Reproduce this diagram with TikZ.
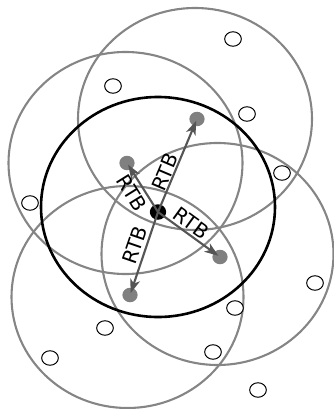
\documentclass[tikz,border=0pt]{standalone}
\usepackage{fontspec}
\setmainfont{DejaVu Sans}
\usetikzlibrary{arrows.meta}
\definecolor{ringgray}{HTML}{858585}
\definecolor{dotgray}{HTML}{808080}
\definecolor{arrowgray}{HTML}{555555}
\begin{document}
\begin{tikzpicture}[x=1pt,y=-1pt,
  ring/.style={draw=ringgray,line width=2.1pt},
  hub/.style={draw=black,line width=2.6pt},
  holder/.style={circle,fill=dotgray,minimum size=14.5pt,inner sep=0pt,xscale=1.05},
  center/.style={circle,fill=black,minimum size=15.5pt,inner sep=0pt,xscale=1.05},
  member/.style={circle,draw=black,line width=1pt,fill=white,minimum size=14.5pt,inner sep=0pt,xscale=1.15},
  link/.style={draw=arrowgray,line width=2.1pt,-{Stealth[length=14pt,width=10pt,inset=4pt]},shorten >=2pt},
  lbl/.style={font=\fontsize{20}{20}\selectfont,inner sep=0pt}
]
\useasboundingbox (0,0) rectangle (334,409);
% gray coverage circles
\draw[ring] (195,119) ellipse [x radius=117,y radius=111];
\draw[ring] (125.5,163) ellipse [x radius=117,y radius=111];
\draw[ring] (217.5,254) ellipse [x radius=116,y radius=111];
\draw[ring] (127.5,297) ellipse [x radius=116,y radius=111];
% black circle
\draw[hub] (158,207) ellipse [x radius=117,y radius=110];
% small white nodes
\node[member] (m1) at (233,39) {};
\node[member] (m2) at (113,86) {};
\node[member] (m3) at (247,114) {};
\node[member] (m4) at (282,173) {};
\node[member] (m5) at (30,203) {};
\node[member] (m6) at (315,283) {};
\node[member] (m7) at (235,308) {};
\node[member] (m8) at (105,328) {};
\node[member] (m9) at (50,358) {};
\node[member] (m10) at (213,352) {};
\node[member] (m11) at (258,390) {};
% gray holders
\node[holder] (g1) at (197,119) {};
\node[holder] (g2) at (127,163) {};
\node[holder] (g3) at (220,257) {};
\node[holder] (g4) at (130,295) {};
% center
\node[center] (c) at (158,212) {};
% arrows
\draw[link] (c.center) -- (g1.center);
\draw[link] (c.center) -- (g2.center);
\draw[link] (c.center) -- (g3.center);
\draw[link] (c.center) -- (g4.center);
% labels
\node[lbl,rotate=67] (l1) at (165,172) {RTB};
\node[lbl,rotate=-58] (l2) at (132,193) {RTB};
\node[lbl,rotate=-36] (l3) at (191.5,223) {RTB};
\node[lbl,rotate=71] (l4) at (135,245) {RTB};
\end{tikzpicture}
\end{document}
